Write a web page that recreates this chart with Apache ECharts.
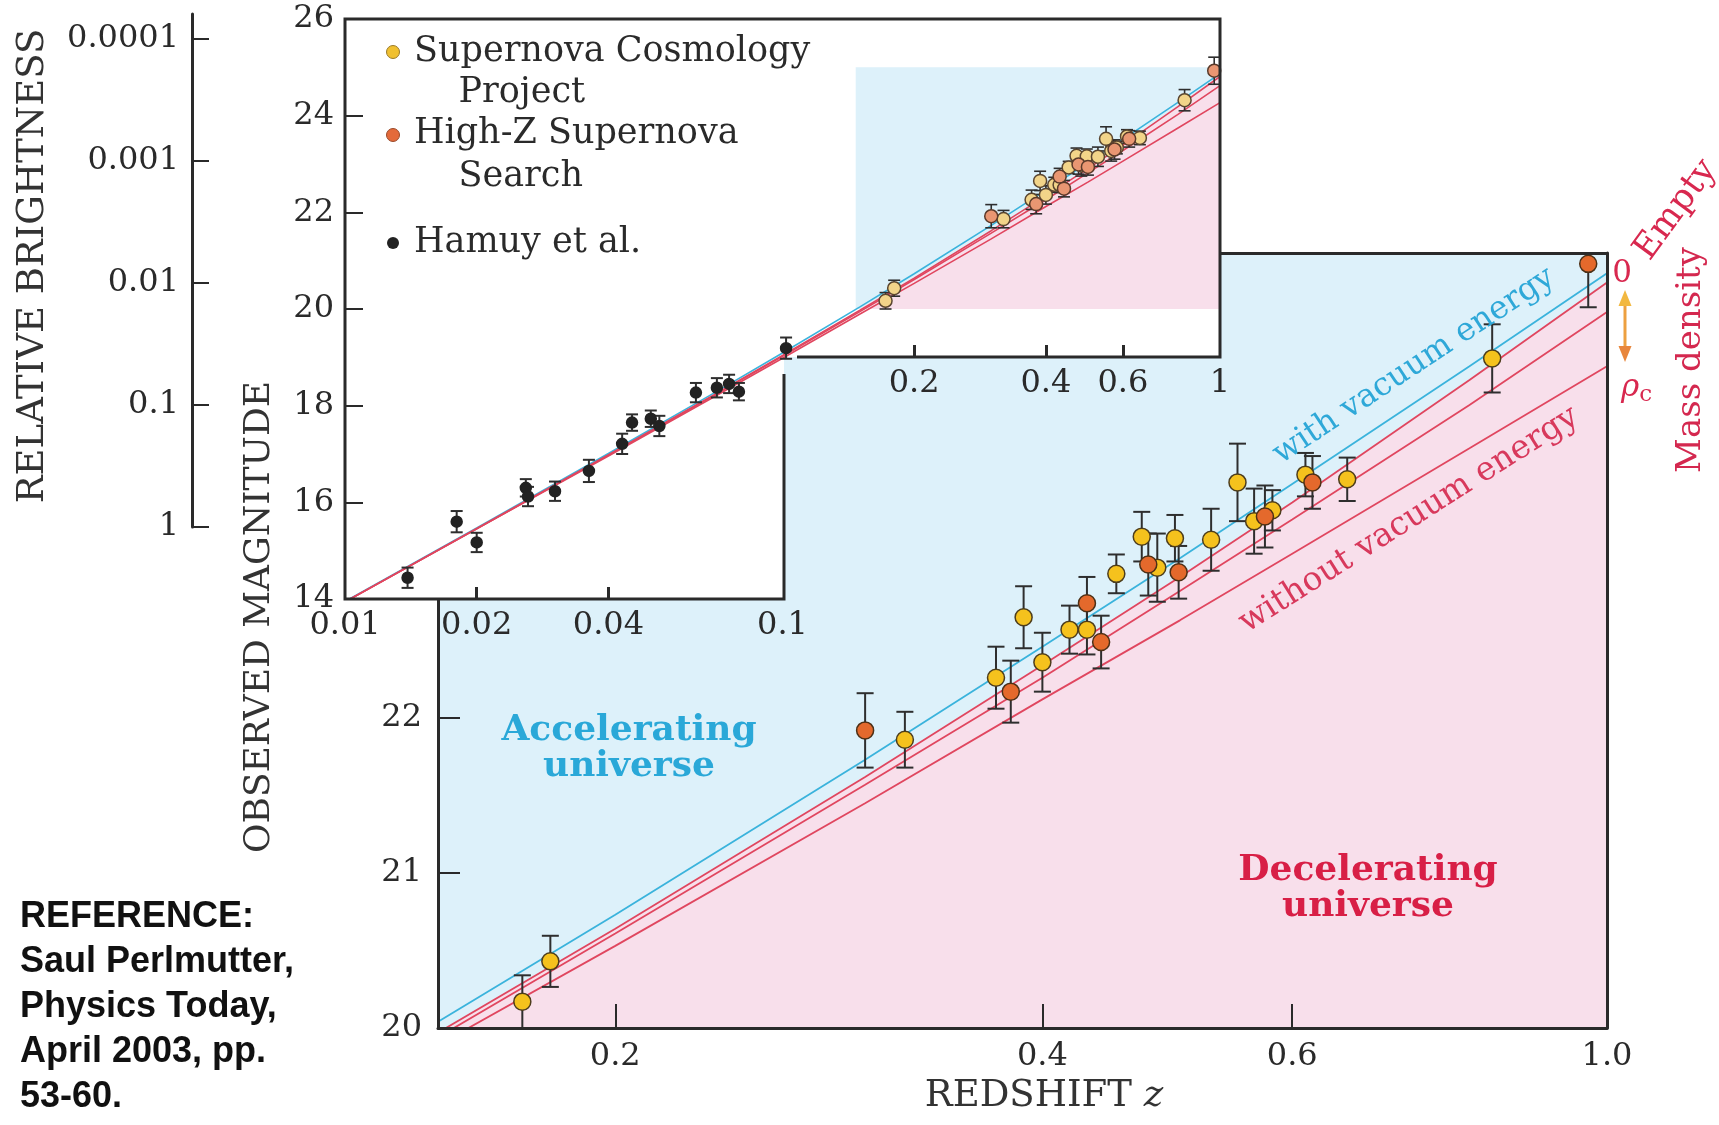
<!DOCTYPE html>
<html>
<head>
<meta charset="utf-8">
<script src="https://cdn.jsdelivr.net/npm/echarts@6/dist/echarts.min.js"></script>
<style>
html, body { margin: 0; padding: 0; background: #fff; }
#chart { width: 1719px; height: 1125px; }
</style>
</head>
<body>
<div id="chart"></div>
<script>
// [redshift z, magnitude, error]
var scpData = [
    [0.172, 20.17, 0.17], [0.180, 20.43, 0.165], [0.320, 21.86, 0.18], [0.371, 22.26, 0.20],
    [0.388, 22.65, 0.20], [0.400, 22.36, 0.19], [0.418, 22.57, 0.155], [0.430, 22.57, 0.16],
    [0.451, 22.93, 0.125], [0.470, 23.17, 0.16], [0.482, 22.97, 0.22], [0.496, 23.16, 0.15],
    [0.526, 23.15, 0.20], [0.549, 23.52, 0.25], [0.564, 23.27, 0.21], [0.581, 23.34, 0.13],
    [0.613, 23.57, 0.14], [0.656, 23.54, 0.14], [0.830, 24.32, 0.22]
];
var highzData = [
    [0.300, 21.92, 0.24], [0.380, 22.17, 0.20], [0.430, 22.74, 0.17], [0.440, 22.49, 0.17],
    [0.475, 22.99, 0.20], [0.499, 22.94, 0.17], [0.574, 23.30, 0.20], [0.620, 23.52, 0.17],
    [0.970, 24.93, 0.28]
];
var hamuyData = [
    [0.0139, 14.44, 0.21], [0.0180, 15.60, 0.22], [0.0200, 15.17, 0.20], [0.0259, 16.30, 0.18],
    [0.0262, 16.12, 0.20], [0.0302, 16.23, 0.20], [0.0361, 16.65, 0.23], [0.0430, 17.21, 0.21],
    [0.0453, 17.65, 0.17], [0.0500, 17.73, 0.17], [0.0523, 17.58, 0.21], [0.0634, 18.27, 0.20],
    [0.0708, 18.37, 0.20], [0.0755, 18.45, 0.19], [0.0795, 18.29, 0.18], [0.1019, 19.19, 0.22]
];

// model curves, read at these redshifts
var modelZ = [0.01, 0.02, 0.04, 0.07, 0.1, 0.15, 0.2, 0.3, 0.4, 0.5, 0.6, 0.8, 1.0];
var withVacuum = [13.95, 15.47, 17.01, 18.27, 19.09, 20.04, 20.73, 21.73, 22.46, 23.03, 23.51, 24.27, 24.87];
var emptyUniverse = [13.94, 15.46, 16.98, 18.23, 19.04, 19.97, 20.64, 21.62, 22.34, 22.91, 23.39, 24.18, 24.81];
var lowDensity = [13.94, 15.45, 16.98, 18.22, 19.02, 19.94, 20.61, 21.57, 22.26, 22.82, 23.28, 24.02, 24.62];
var criticalDensity = [13.94, 15.45, 16.96, 18.19, 18.98, 19.89, 20.53, 21.45, 22.12, 22.63, 23.06, 23.74, 24.27];

// ticks / labels
var mainXTicks = [0.2, 0.4, 0.6];
var mainXLabels = [0.2, 0.4, 0.6, 1.0];
var mainYLabels = [20, 21, 22];
var insetXTicksLow = [0.02, 0.04];
var insetXLabelsLow = [0.01, 0.02, 0.04, 0.1];
var insetXTicksHigh = [0.2, 0.4, 0.6];
var insetXLabelsHigh = [0.2, 0.4, 0.6, 1];
var brightnessTicks = [0, 2.5, 5, 7.5, 10];
var brightnessLabels = ['1', '0.1', '0.01', '0.001', '0.0001'];
// main-plot window shown inside the inset: zMin, zMax, magMin, magMax
var zoomBox = [0.147, 1, 20, 25];

var BLUE = '#ddf1fa', PINK = '#f8dfeb';
var CYAN = '#3ab3dc', RED = '#e0465f';
var SERIF = '"DejaVu Serif", serif';
var INK = '#2a2a2a';

function pairs(ys) {
    return modelZ.map(function (z, i) { return [z, ys[i]]; });
}
function fmt(v) { return String(+v.toPrecision(3)); }

function errorBars(cap, width) {
    return function (params, api) {
        var z = api.value(0), m = api.value(1), e = api.value(2);
        var hi = api.coord([z, m + e]), lo = api.coord([z, m - e]);
        var st = { stroke: '#2e2e2e', lineWidth: width };
        return {
            type: 'group',
            children: [
                { type: 'line', shape: { x1: hi[0], y1: hi[1], x2: lo[0], y2: lo[1] }, style: st },
                { type: 'line', shape: { x1: hi[0] - cap, y1: hi[1], x2: hi[0] + cap, y2: hi[1] }, style: st },
                { type: 'line', shape: { x1: lo[0] - cap, y1: lo[1], x2: lo[0] + cap, y2: lo[1] }, style: st }
            ]
        };
    };
}

function modelLine(name, ys, color, xi, yi, z, w) {
    return {
        name: name, type: 'line', xAxisIndex: xi, yAxisIndex: yi, z: z,
        data: pairs(ys), showSymbol: false, symbol: 'none', silent: true,
        lineStyle: { color: color, width: w }
    };
}

function dots(name, data, xi, yi, z, size, fill, border) {
    return {
        name: name, type: 'scatter', xAxisIndex: xi, yAxisIndex: yi, z: z,
        data: data, symbol: 'circle', symbolSize: size, silent: true,
        itemStyle: { color: fill, borderColor: border, borderWidth: 1.5, opacity: 1 }
    };
}

function bars(data, xi, yi, z, cap, width) {
    return {
        type: 'custom', xAxisIndex: xi, yAxisIndex: yi, z: z, clip: true, silent: true,
        data: data, encode: { x: 0, y: 1 }, renderItem: errorBars(cap, width)
    };
}

var labelFont = { fontFamily: SERIF, fontSize: 32, color: INK };

var option = {
    animation: false,
    backgroundColor: '#fff',
    grid: [
        { left: 438, top: 253, width: 1169, height: 775, show: true, backgroundColor: BLUE, borderWidth: 0 },
        { left: 345, top: 19, width: 875, height: 580 },
        { left: 192, top: 14, width: 10, height: 513 }
    ],
    xAxis: [
        {
            gridIndex: 0, type: 'log', logBase: 10, min: 0.15, max: 1, z: 5,
            axisLine: { lineStyle: { color: INK, width: 3 } },
            axisTick: { inside: true, length: 24, customValues: mainXTicks, lineStyle: { color: INK, width: 2 } },
            axisLabel: Object.assign({ customValues: mainXLabels, margin: 13, formatter: function (v) {
                return Math.abs(v - 1) < 1e-9 ? '1.0' : fmt(v);
            } }, labelFont),
            splitLine: { show: false }, minorTick: { show: false }
        },
        {
            gridIndex: 0, type: 'log', logBase: 10, min: 0.15, max: 1, position: 'top', z: 5,
            axisLine: { lineStyle: { color: INK, width: 3 } },
            axisTick: { show: false }, axisLabel: { show: false }, splitLine: { show: false }
        },
        {
            gridIndex: 1, type: 'log', logBase: 10, min: 0.01, max: 1, z: 15,
            axisLine: { show: false },
            axisTick: { inside: true, length: 12, customValues: insetXTicksLow, lineStyle: { color: INK, width: 3 } },
            axisLabel: Object.assign({ customValues: insetXLabelsLow, margin: 11, formatter: fmt }, labelFont),
            splitLine: { show: false }
        },
        {
            gridIndex: 1, type: 'log', logBase: 10, min: 0.01, max: 1, position: 'bottom', offset: -242, z: 15,
            axisLine: { show: false },
            axisTick: { inside: true, length: 12, customValues: insetXTicksHigh, lineStyle: { color: INK, width: 3 } },
            axisLabel: Object.assign({ customValues: insetXLabelsHigh, margin: 11, formatter: fmt }, labelFont),
            splitLine: { show: false }
        },
        { gridIndex: 2, type: 'value', show: false }
    ],
    yAxis: [
        {
            gridIndex: 0, type: 'value', min: 20, max: 25, z: 5,
            axisLine: { show: true, lineStyle: { color: INK, width: 3 } },
            axisTick: { show: true, inside: true, length: 22, customValues: mainYLabels, lineStyle: { color: INK, width: 2 } },
            axisLabel: Object.assign({ customValues: mainYLabels, margin: 16 }, labelFont),
            splitLine: { show: false }
        },
        {
            gridIndex: 0, type: 'value', min: 20, max: 25, position: 'right', z: 5,
            axisLine: { show: true, lineStyle: { color: INK, width: 3 } },
            axisTick: { show: false }, axisLabel: { show: false }, splitLine: { show: false }
        },
        {
            gridIndex: 1, type: 'value', min: 14, max: 26, interval: 2, z: 15,
            axisLine: { show: false },
            axisTick: { show: true, inside: true, length: 18, lineStyle: { color: INK, width: 2 } },
            axisLabel: Object.assign({ margin: 11 }, labelFont),
            splitLine: { show: false }
        },
        {
            gridIndex: 2, type: 'value', min: 0, max: 10.51, z: 15,
            axisLine: { show: true, lineStyle: { color: INK, width: 3 } },
            axisTick: { show: true, inside: true, length: 17, customValues: brightnessTicks, lineStyle: { color: INK, width: 2 } },
            axisLabel: Object.assign({ customValues: brightnessTicks, margin: 13, formatter: function (v) {
                return brightnessLabels[Math.round(v / 2.5)];
            } }, labelFont),
            splitLine: { show: false }
        }
    ],
    series: [
        // main plot
        {
            type: 'line', xAxisIndex: 0, yAxisIndex: 0, z: 1, silent: true,
            data: pairs(emptyUniverse), showSymbol: false, symbol: 'none',
            lineStyle: { width: 0, opacity: 0 },
            areaStyle: { color: PINK, opacity: 1, origin: 'start' }
        },
        modelLine('with vacuum energy', withVacuum, CYAN, 0, 0, 2, 1.8),
        modelLine('empty', emptyUniverse, RED, 0, 0, 2, 1.8),
        modelLine('low density', lowDensity, RED, 0, 0, 2, 1.8),
        modelLine('critical density', criticalDensity, RED, 0, 0, 2, 1.8),
        bars(scpData, 0, 0, 3, 8.5, 2),
        bars(highzData, 0, 0, 3, 8.5, 2),
        dots('Supernova Cosmology Project', scpData, 0, 0, 4, 17, '#f5c21d', '#4d3d1c'),
        dots('High-Z Supernova Search', highzData, 0, 0, 4, 17, '#e4692c', '#4d3016'),

        // inset
        {
            type: 'custom', xAxisIndex: 2, yAxisIndex: 2, z: 11, silent: true,
            data: [[zoomBox[0], zoomBox[2]]], encode: { x: 0, y: 1 },
            renderItem: function (params, api) {
                var a = api.coord([zoomBox[0], zoomBox[3]]);
                var b = api.coord([zoomBox[1], zoomBox[2]]);
                var pts = [];
                modelZ.forEach(function (z, i) {
                    if (z >= 0.15) pts.push(api.coord([z, Math.max(emptyUniverse[i], zoomBox[2])]));
                });
                pts.push(b);
                return {
                    type: 'group',
                    children: [
                        { type: 'rect', shape: { x: a[0], y: a[1], width: b[0] - a[0], height: b[1] - a[1] }, style: { fill: BLUE } },
                        { type: 'polygon', shape: { points: pts }, style: { fill: PINK } }
                    ]
                };
            }
        },
        modelLine('with vacuum energy', withVacuum, CYAN, 2, 2, 12, 1.6),
        modelLine('empty', emptyUniverse, RED, 2, 2, 12, 1.6),
        modelLine('low density', lowDensity, RED, 2, 2, 12, 1.6),
        modelLine('critical density', criticalDensity, RED, 2, 2, 12, 1.6),
        bars(hamuyData, 2, 2, 13, 6, 2),
        bars(scpData, 2, 2, 13, 6, 1.6),
        bars(highzData, 2, 2, 13, 6, 1.6),
        dots('Hamuy et al.', hamuyData, 2, 2, 14, 11, '#222', '#222'),
        dots('Supernova Cosmology Project', scpData, 2, 2, 14, 13, '#f2d489', '#5a4630'),
        dots('High-Z Supernova Search', highzData, 2, 2, 14, 13, '#e99672', '#5a3a2a')
    ],
    graphic: [
        // inset background and frame (L-shaped)
        { type: 'polygon', z: 10, silent: true,
          shape: { points: [[345, 19], [1220, 19], [1220, 357], [784, 357], [784, 599], [345, 599]] },
          style: { fill: '#fff' } },
        { type: 'polyline', z: 16, silent: true,
          shape: { points: [[784, 374], [784, 599], [345, 599], [345, 19], [1220, 19], [1220, 357], [797, 357]] },
          style: { stroke: INK, lineWidth: 3, fill: null } },

        // legend
        { type: 'circle', z: 20, shape: { cx: 393, cy: 52, r: 6.5 }, style: { fill: '#f0c030', stroke: '#9a7a2a', lineWidth: 1 } },
        { type: 'circle', z: 20, shape: { cx: 393, cy: 135, r: 6.5 }, style: { fill: '#e46a3a', stroke: '#9a4a2a', lineWidth: 1 } },
        { type: 'circle', z: 20, shape: { cx: 393, cy: 243, r: 6 }, style: { fill: '#222' } },
        { type: 'text', z: 20, x: 414, y: 31, style: { text: 'Supernova Cosmology\n    Project', font: '35px ' + SERIF, fill: INK, lineHeight: 41, align: 'left', textAlign: 'left', verticalAlign: 'top', textVerticalAlign: 'top' } },
        { type: 'text', z: 20, x: 414, y: 112, style: { text: 'High-Z Supernova\n    Search', font: '35px ' + SERIF, fill: INK, lineHeight: 43, align: 'left', textAlign: 'left', verticalAlign: 'top', textVerticalAlign: 'top' } },
        { type: 'text', z: 20, x: 414, y: 243, style: { text: 'Hamuy et al.', font: '35px ' + SERIF, fill: INK, align: 'left', textAlign: 'left', verticalAlign: 'middle', textVerticalAlign: 'middle' } },

        // axis titles
        { type: 'text', z: 20, x: 33, y: 266, rotation: Math.PI / 2, style: { text: 'RELATIVE BRIGHTNESS', font: '37px ' + SERIF, fill: '#333', align: 'center', textAlign: 'center', verticalAlign: 'middle', textVerticalAlign: 'middle' } },
        { type: 'text', z: 20, x: 260, y: 617, rotation: Math.PI / 2, style: { text: 'OBSERVED MAGNITUDE', font: '36px ' + SERIF, fill: '#333', align: 'center', textAlign: 'center', verticalAlign: 'middle', textVerticalAlign: 'middle' } },
        { type: 'text', z: 20, x: 1044, y: 1096, style: {
            text: '{a|REDSHIFT }{b|z}', align: 'center', textAlign: 'center', verticalAlign: 'middle', textVerticalAlign: 'middle',
            rich: { a: { font: '37px ' + SERIF, fill: '#333', color: '#333' }, b: { font: 'italic 37px ' + SERIF, fill: '#333', color: '#333' } } } },

        // region labels
        { type: 'text', z: 20, x: 629, y: 749, style: { text: 'Accelerating\nuniverse', font: 'bold 36px ' + SERIF, fill: '#2aa8d8', lineHeight: 36, align: 'center', textAlign: 'center', verticalAlign: 'middle', textVerticalAlign: 'middle' } },
        { type: 'text', z: 20, x: 1368, y: 889, style: { text: 'Decelerating\nuniverse', font: 'bold 36px ' + SERIF, fill: '#d81f46', lineHeight: 36, align: 'center', textAlign: 'center', verticalAlign: 'middle', textVerticalAlign: 'middle' } },
        { type: 'text', z: 20, x: 1414, y: 366, rotation: 0.585, style: { text: 'with vacuum energy', font: '32px ' + SERIF, fill: '#2ea8d8', align: 'center', textAlign: 'center', verticalAlign: 'middle', textVerticalAlign: 'middle' } },
        { type: 'text', z: 20, x: 1409, y: 520, rotation: 0.565, style: { text: 'without vacuum energy', font: '33px ' + SERIF, fill: '#d8395c', align: 'center', textAlign: 'center', verticalAlign: 'middle', textVerticalAlign: 'middle' } },

        // mass density key
        { type: 'text', z: 20, x: 1622, y: 274, style: { text: '0', font: '31px ' + SERIF, fill: '#d8284f', align: 'center', textAlign: 'center', verticalAlign: 'middle', textVerticalAlign: 'middle' } },
        { type: 'text', z: 20, x: 1676, y: 210, rotation: 0.94, style: { text: 'Empty', font: '35px ' + SERIF, fill: '#d8284f', align: 'center', textAlign: 'center', verticalAlign: 'middle', textVerticalAlign: 'middle' } },
        { type: 'line', z: 20, shape: { x1: 1625, y1: 302, x2: 1625, y2: 350 }, style: { stroke: '#eda040', lineWidth: 3 } },
        { type: 'polygon', z: 20, shape: { points: [[1625, 290], [1618.5, 306], [1631.5, 306]] }, style: { fill: '#f2b840' } },
        { type: 'polygon', z: 20, shape: { points: [[1625, 362], [1618.5, 346], [1631.5, 346]] }, style: { fill: '#e8863c' } },
        { type: 'text', z: 20, x: 1621, y: 388, style: {
            text: '{r|ρ}{c|c}', align: 'left', textAlign: 'left', verticalAlign: 'middle', textVerticalAlign: 'middle',
            rich: { r: { font: 'italic 31px ' + SERIF, fill: '#d8284f', color: '#d8284f' }, c: { font: '23px ' + SERIF, fill: '#d8284f', color: '#d8284f', padding: [14, 0, 0, 0] } } } },
        { type: 'text', z: 20, x: 1691, y: 360, rotation: Math.PI / 2, style: { text: 'Mass density', font: '34px ' + SERIF, fill: '#d4284f', align: 'center', textAlign: 'center', verticalAlign: 'middle', textVerticalAlign: 'middle' } },

        // reference note
        { type: 'text', z: 20, x: 20, y: 895, style: { text: 'REFERENCE:\nSaul Perlmutter,\nPhysics Today,\nApril 2003, pp.\n53-60.', font: 'bold 36px "Liberation Sans", Arial, sans-serif', fill: '#111', lineHeight: 45, align: 'left', textAlign: 'left', verticalAlign: 'top', textVerticalAlign: 'top' } }
    ]
};

var chart = echarts.init(document.getElementById('chart'), null, { renderer: 'canvas' });
chart.setOption(option);
</script>
</body>
</html>
